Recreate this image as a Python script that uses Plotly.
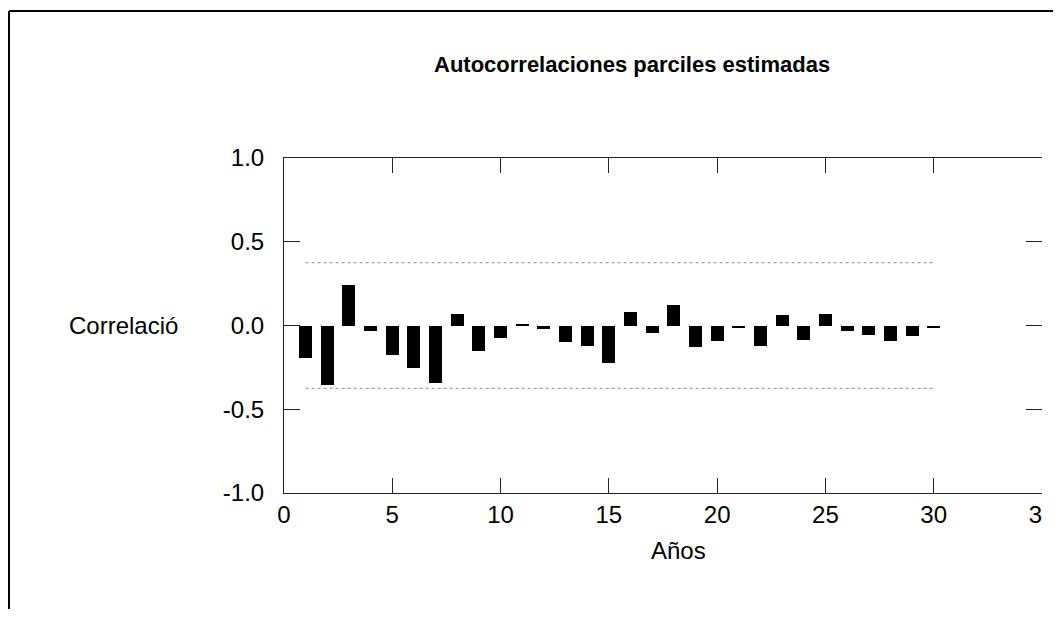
import plotly.graph_objects as go

lags = list(range(1, 31))
pacf = [-0.195, -0.358, 0.243, -0.032, -0.179, -0.255, -0.342, 0.066, -0.155, -0.072,
        0.008, -0.02, -0.10, -0.12, -0.222, 0.078, -0.045, 0.12, -0.13, -0.09,
        -0.015, -0.125, 0.06, -0.085, 0.07, -0.03, -0.055, -0.09, -0.06, -0.012]
ci_x = [1, 30]
ci_upper = [0.375, 0.375]
ci_lower = [-0.375, -0.375]
y_ticks = [-1.0, -0.5, 0.0, 0.5, 1.0]
y_tick_text = ["-1.0", "-0.5", "0.0", "0.5", "1.0"]
x_ticks = [0, 5, 10, 15, 20, 25, 30, 35]

title_text = "Autocorrelaciones parciles estimadas"
y_label = "Correlació"
x_label = "Años"

FONT = "Liberation Sans, Arial, sans-serif"

# page body has an 8px margin on every side; keep the figure inside the viewport
OFF = 8
W, H = 1061 - 2 * OFF, 618 - 2 * OFF
L = 284 - OFF
R = W - (1042 - OFF)
T = 158 - OFF
B = H - (493 - OFF)
pw, ph = W - L - R, H - T - B


def px(xs):
    return (xs - OFF - L) / pw


def py(ys):
    return (H - B - (ys - OFF)) / ph


fig = go.Figure()
fig.add_trace(go.Bar(x=lags, y=pacf, width=0.6, marker=dict(color="black", line=dict(width=0)),
                     showlegend=False))
fig.add_trace(go.Scatter(x=ci_x, y=ci_upper, mode="lines",
                         line=dict(color="#888888", width=1, dash="dot"), showlegend=False))
fig.add_trace(go.Scatter(x=ci_x, y=ci_lower, mode="lines", yaxis="y2",
                         line=dict(color="#888888", width=1, dash="dot"), showlegend=False))

axis_font = dict(family=FONT, size=24, color="black")

fig.update_layout(
    width=W, height=H,
    margin=dict(l=L, r=R, t=T, b=B, pad=0, autoexpand=False),
    paper_bgcolor="white", plot_bgcolor="white",
    bargap=0,
    xaxis=dict(range=[0, 35], tickvals=x_ticks, ticks="inside",
               ticklen=15, tickcolor="#222", automargin=False, ticklabeloverflow="allow",
               showline=True, linecolor="#222", linewidth=1, mirror="ticks",
               showgrid=False, zeroline=False, tickfont=axis_font, ticklabelstandoff=0),
    yaxis=dict(range=[-1.0, 1.0], tickvals=y_ticks, ticktext=y_tick_text, ticks="inside",
               ticklen=16, tickcolor="#222", showline=True, linecolor="#222", linewidth=1,
               automargin=False,
               showgrid=False, zeroline=False, tickfont=axis_font, ticklabelstandoff=14),
    yaxis2=dict(range=[-1.0, 1.0], tickvals=y_ticks, overlaying="y", side="right", anchor="x",
                ticks="inside", ticklen=16, tickcolor="#222", showline=False, automargin=False,
                showticklabels=False, showgrid=False, zeroline=False),
    annotations=[
        dict(text="<b>" + title_text + "</b>", xref="paper", yref="paper", x=px(632), y=py(65),
             xanchor="center", yanchor="middle", showarrow=False,
             font=dict(family=FONT, size=22, color="black")),
        dict(text=y_label, xref="paper", yref="y", x=px(180), y=0,
             xanchor="right", yanchor="middle", showarrow=False, font=axis_font),
        dict(text=x_label, xref="paper", yref="paper", x=px(678), y=py(550),
             xanchor="center", yanchor="middle", showarrow=False, font=axis_font),
    ],
    shapes=[
        # the original picture is cut off just right of the plot area
        dict(type="rect", xref="paper", yref="paper", x0=px(1043), x1=px(1060),
             y0=py(609), y1=py(20), fillcolor="white", line=dict(width=0), layer="above"),
        dict(type="line", xref="paper", yref="paper", x0=px(9), x1=px(1053), y0=py(11), y1=py(11),
             line=dict(color="black", width=2), layer="above"),
        dict(type="line", xref="paper", yref="paper", x0=px(9), x1=px(9), y0=py(11), y1=py(609),
             line=dict(color="black", width=2), layer="above"),
    ],
)

fig.write_html("out.html")
